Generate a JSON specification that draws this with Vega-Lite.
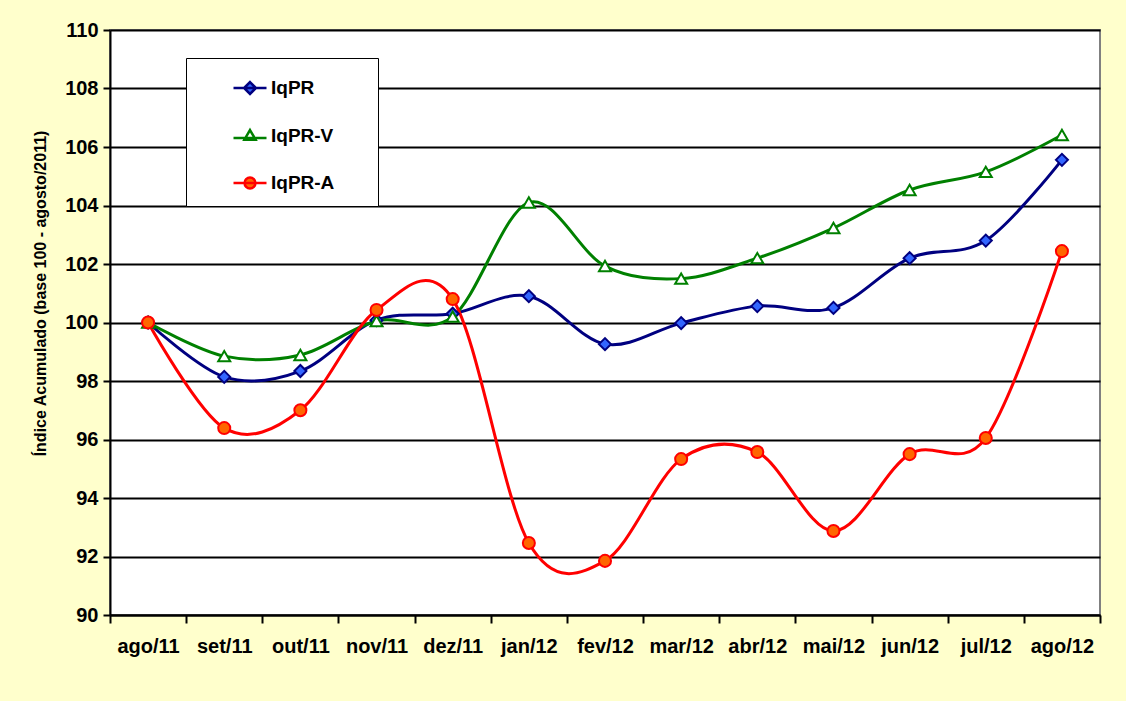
{
  "$schema": "https://vega.github.io/schema/vega-lite/v6.json",
  "width": 990,
  "height": 585,
  "autosize": {"type": "none"},
  "padding": {"left": 110, "top": 30, "right": 26, "bottom": 86},
  "background": "#FFFFCC",
  "config": {
    "font": "Liberation Sans",
    "view": {"fill": "white", "stroke": "#808080", "strokeWidth": 2}
  },
  "data": {
    "values": [
      {"m": "ago/11", "s": "IqPR", "v": 100.0},
      {"m": "set/11", "s": "IqPR", "v": 98.14},
      {"m": "out/11", "s": "IqPR", "v": 98.34},
      {"m": "nov/11", "s": "IqPR", "v": 100.08},
      {"m": "dez/11", "s": "IqPR", "v": 100.3},
      {"m": "jan/12", "s": "IqPR", "v": 100.9},
      {"m": "fev/12", "s": "IqPR", "v": 99.26},
      {"m": "mar/12", "s": "IqPR", "v": 99.98},
      {"m": "abr/12", "s": "IqPR", "v": 100.56},
      {"m": "mai/12", "s": "IqPR", "v": 100.5},
      {"m": "jun/12", "s": "IqPR", "v": 102.2},
      {"m": "jul/12", "s": "IqPR", "v": 102.8},
      {"m": "ago/12", "s": "IqPR", "v": 105.56},
      {"m": "ago/11", "s": "IqPR-V", "v": 100.0},
      {"m": "set/11", "s": "IqPR-V", "v": 98.85},
      {"m": "out/11", "s": "IqPR-V", "v": 98.89},
      {"m": "nov/11", "s": "IqPR-V", "v": 100.05},
      {"m": "dez/11", "s": "IqPR-V", "v": 100.2},
      {"m": "jan/12", "s": "IqPR-V", "v": 104.1},
      {"m": "fev/12", "s": "IqPR-V", "v": 101.93},
      {"m": "mar/12", "s": "IqPR-V", "v": 101.5},
      {"m": "abr/12", "s": "IqPR-V", "v": 102.2},
      {"m": "mai/12", "s": "IqPR-V", "v": 103.23},
      {"m": "jun/12", "s": "IqPR-V", "v": 104.53},
      {"m": "jul/12", "s": "IqPR-V", "v": 105.15},
      {"m": "ago/12", "s": "IqPR-V", "v": 106.41},
      {"m": "ago/11", "s": "IqPR-A", "v": 100.0},
      {"m": "set/11", "s": "IqPR-A", "v": 96.39},
      {"m": "out/11", "s": "IqPR-A", "v": 97.0},
      {"m": "nov/11", "s": "IqPR-A", "v": 100.43},
      {"m": "dez/11", "s": "IqPR-A", "v": 100.8},
      {"m": "jan/12", "s": "IqPR-A", "v": 92.46},
      {"m": "fev/12", "s": "IqPR-A", "v": 91.85},
      {"m": "mar/12", "s": "IqPR-A", "v": 95.33},
      {"m": "abr/12", "s": "IqPR-A", "v": 95.57},
      {"m": "mai/12", "s": "IqPR-A", "v": 92.87},
      {"m": "jun/12", "s": "IqPR-A", "v": 95.5},
      {"m": "jul/12", "s": "IqPR-A", "v": 96.05},
      {"m": "ago/12", "s": "IqPR-A", "v": 102.44}
    ]
  },
  "encoding": {
    "x": {
      "field": "m",
      "type": "ordinal",
      "sort": ["ago/11", "set/11", "out/11", "nov/11", "dez/11", "jan/12", "fev/12", "mar/12", "abr/12", "mai/12", "jun/12", "jul/12", "ago/12"],
      "scale": {"type": "band", "paddingInner": 0, "paddingOuter": 0},
      "axis": {
        "title": null,
        "labelAngle": 0,
        "labelFont": "Liberation Sans",
        "labelFontSize": 20,
        "labelFontWeight": "bold",
        "labelColor": "black",
        "labelPadding": 13,
        "tickBand": "extent",
        "tickSize": 8,
        "tickColor": "black",
        "tickWidth": 2,
        "domainColor": "black",
        "domainWidth": 2,
        "grid": false
      }
    },
    "y": {
      "field": "v",
      "type": "quantitative",
      "scale": {"domain": [90, 110], "nice": false, "zero": false},
      "axis": {
        "title": "Índice Acumulado (base 100 - agosto/2011)",
        "titleFont": "Liberation Sans",
        "titleFontSize": 16,
        "titleFontWeight": "bold",
        "titleColor": "black",
        "titleX": -70,
        "titleY": 263,
        "titleAngle": -90,
        "titleAlign": "center",
        "titleBaseline": "middle",
        "values": [90, 92, 94, 96, 98, 100, 102, 104, 106, 108, 110],
        "labelFont": "Liberation Sans",
        "labelFontSize": 20,
        "labelFontWeight": "bold",
        "labelColor": "black",
        "labelPadding": 5,
        "tickSize": 7,
        "tickColor": "black",
        "tickWidth": 2,
        "domainColor": "black",
        "domainWidth": 2,
        "grid": true,
        "gridColor": "black",
        "gridWidth": 2
      }
    }
  },
  "layer": [
    {
      "mark": {"type": "line", "interpolate": "cardinal", "strokeWidth": 3},
      "encoding": {
        "color": {
          "field": "s",
          "type": "nominal",
          "scale": {"domain": ["IqPR", "IqPR-V", "IqPR-A"], "range": ["#000080", "#008000", "#FF0000"]},
          "legend": null
        }
      }
    },
    {
      "mark": {"type": "point", "filled": true, "size": 145, "strokeWidth": 2, "opacity": 1},
      "encoding": {
        "shape": {
          "field": "s",
          "type": "nominal",
          "scale": {"domain": ["IqPR", "IqPR-V", "IqPR-A"], "range": ["diamond", "triangle-up", "circle"]},
          "legend": null
        },
        "fill": {
          "field": "s",
          "type": "nominal",
          "scale": {"domain": ["IqPR", "IqPR-V", "IqPR-A"], "range": ["#3366FF", "#FFFFFF", "#FF6600"]},
          "legend": null
        },
        "stroke": {
          "field": "s",
          "type": "nominal",
          "scale": {"domain": ["IqPR", "IqPR-V", "IqPR-A"], "range": ["#000080", "#008000", "#FF0000"]},
          "legend": null
        }
      }
    },
    {
      "mark": {"type": "point", "filled": true, "opacity": 0},
      "encoding": {
        "shape": {
          "field": "s",
          "type": "nominal",
          "scale": {
            "domain": ["IqPR", "IqPR-V", "IqPR-A"],
            "range": [
              "M-1,0H1M0,-0.36L0.36,0L0,0.36L-0.36,0Z",
              "M-1,0.12H1M0,-0.36L0.34,0.22L-0.34,0.22Z",
              "M-1,0H1M-0.33,0A0.33,0.33 0 1,0 0.33,0A0.33,0.33 0 1,0 -0.33,0Z"
            ]
          },
          "legend": {
            "title": "xxxx",
            "titleOrient": "right",
            "titleColor": "white",
            "titleFontSize": 14,
            "titlePadding": 0,
            "orient": "none",
            "legendX": 76,
            "legendY": 28,
            "padding": 12,
            "symbolOffset": 34,
            "symbolSize": 1089,
            "symbolStrokeWidth": 2.5,
            "symbolOpacity": 1,
            "rowPadding": 19,
            "labelFont": "Liberation Sans",
            "labelFontSize": 19,
            "labelFontWeight": "bold",
            "labelColor": "black",
            "labelOffset": 3,
            "strokeColor": "black",
            "fillColor": "white"
          }
        },
        "fill": {
          "field": "s",
          "type": "nominal",
          "scale": {"domain": ["IqPR", "IqPR-V", "IqPR-A"], "range": ["#3366FF", "#FFFFFF", "#FF6600"]}
        },
        "stroke": {
          "field": "s",
          "type": "nominal",
          "scale": {"domain": ["IqPR", "IqPR-V", "IqPR-A"], "range": ["#000080", "#008000", "#FF0000"]}
        }
      }
    }
  ],
  "resolve": {
    "scale": {"shape": "independent", "fill": "independent", "stroke": "independent"},
    "legend": {"shape": "independent", "fill": "independent", "stroke": "independent"}
  }
}
